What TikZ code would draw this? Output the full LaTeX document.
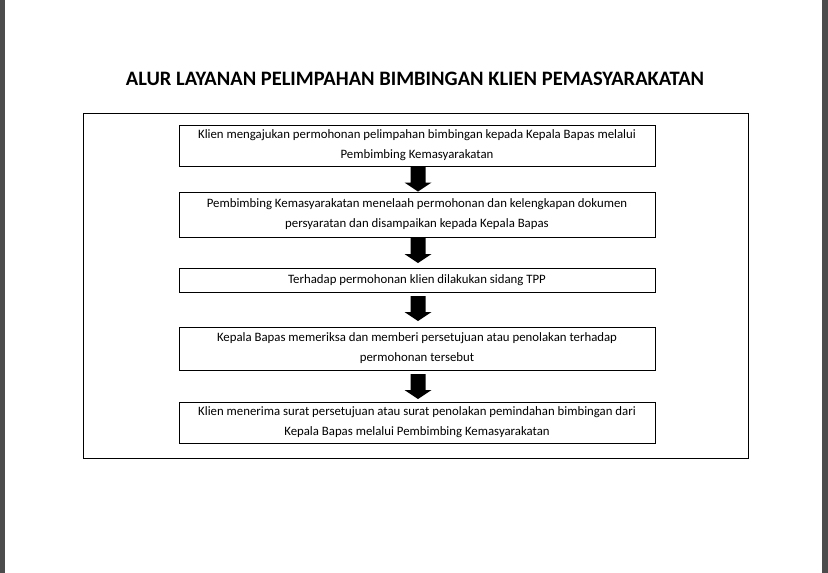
\documentclass[tikz,border=0pt]{standalone}
\usepackage{fontspec}
\setmainfont{Carlito}
\begin{document}
\begin{tikzpicture}[x=1pt,y=-1pt,
 box/.style={draw,line width=0.7pt,minimum width=476pt,align=center,font=\fontsize{12.8}{20}\selectfont,inner sep=0pt},
 barrow/.pic={\fill[black] (-7.5,0) -- (7.5,0) -- (7.5,16) -- (13.5,16) -- (0,25) -- (-13.5,16) -- (-7.5,16) -- cycle;}]
\useasboundingbox (0,0) rectangle (828,573);
\fill[white] (0,0) rectangle (828,573);
\fill[black!70] (0,0) rectangle (5,573);
\fill[black!70] (822,0) rectangle (828,573);
\node[font=\bfseries\fontsize{20.5}{24}\selectfont] (title) at (415,79) {ALUR LAYANAN PELIMPAHAN BIMBINGAN KLIEN PEMASYARAKATAN};
\draw[line width=0.7pt] (83,113) rectangle (748,458);
\node[box,minimum height=41pt] (b1) at (417,145.5) {Klien mengajukan permohonan pelimpahan bimbingan kepada Kepala Bapas melalui\\Pembimbing Kemasyarakatan};
\node[box,minimum height=45pt] (b2) at (417,214.5) {Pembimbing Kemasyarakatan menelaah permohonan dan kelengkapan dokumen\\persyaratan dan disampaikan kepada Kepala Bapas};
\node[box,minimum height=24pt] (b3) at (417,280) {Terhadap permohonan klien dilakukan sidang TPP};
\node[box,minimum height=43pt] (b4) at (417,348.5) {Kepala Bapas memeriksa dan memberi persetujuan atau penolakan terhadap\\permohonan tersebut};
\node[box,minimum height=41pt] (b5) at (417,422.5) {Klien menerima surat persetujuan atau surat penolakan pemindahan bimbingan dari\\Kepala Bapas melalui Pembimbing Kemasyarakatan};
\pic at (418,166.5) {barrow};
\pic at (418,238) {barrow};
\pic at (418,296) {barrow};
\pic at (418,374) {barrow};
\end{tikzpicture}
\end{document}
